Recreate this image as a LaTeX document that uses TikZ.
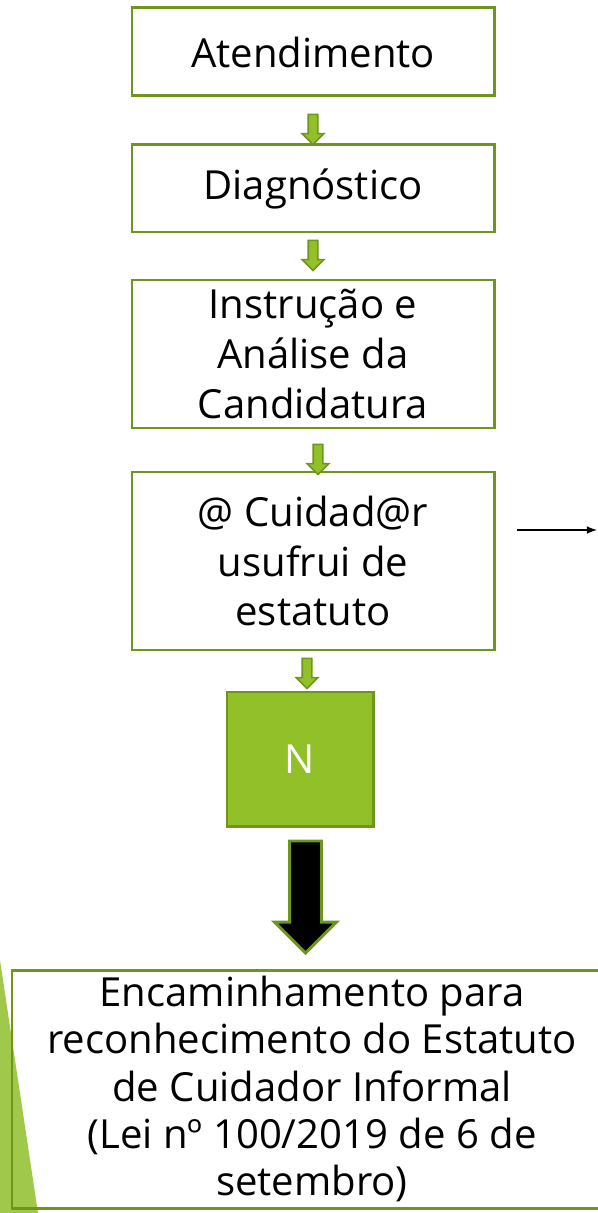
\documentclass[tikz,border=0pt]{standalone}
\usepackage{fontspec}
\setmainfont{Open Sans}
\usepackage{tikz}
\usetikzlibrary{shapes, arrows.meta, positioning}
\definecolor{leafdark}{RGB}{110,150,30}
\definecolor{leaf}{RGB}{146,192,40}
\definecolor{leaflight}{RGB}{160,200,75}
\tikzstyle{block}=[draw=leafdark,line width=1.7pt,fill=white,rectangle,minimum width=7.24cm,align=center,inner sep=0pt,outer sep=0pt]
\tikzstyle{stepto}=[single arrow,draw=leafdark,fill=leaf,line width=0.9pt,rotate=-90,minimum height=0.6cm,inner xsep=0pt,inner ysep=0.08cm,single arrow head extend=0.12cm,outer sep=0pt]
\tikzstyle{every node}=[font=\fontsize{22.8}{28.4}\selectfont]

\begin{document}
\begin{tikzpicture}[auto,node distance=1cm,>=latex]
    \useasboundingbox (0,0) rectangle (11.96,-24.26);
    \fill[leaflight] (0,-19.2) -- (0.76,-24.26) -- (0,-24.26) -- cycle;

    \node[block, minimum height=1.76cm] (atend) at (6.26,-1.04) {Atendimento};
    \node[block, minimum height=1.74cm, below=0.98cm of atend] (diag) {Diagnóstico};
    \node[block, minimum height=2.96cm, below=0.96cm of diag] (instr) {Instrução e\\Análise da\\Candidatura};
    \node[block, minimum height=3.56cm, below=0.88cm of instr] (cuid) {@ Cuidad@r\\usufrui de\\estatuto};
    \node[draw=leafdark, line width=1.7pt, fill=leaf, text=white, outer sep=0pt, minimum width=2.92cm, minimum height=2.68cm, below=0.84cm of cuid, xshift=-0.26cm] (n) {N};

    \node[stepto] (a1) at ([yshift=0.36cm]diag.north) {};
    \node[stepto] (a2) at ([yshift=0.54cm]instr.north) {};
    \node[stepto] (a3) at ([xshift=0.1cm,yshift=0.3cm]cuid.north) {};
    \node[stepto] (a4) at ([xshift=0.14cm,yshift=0.42cm]n.north) {};

    \node[single arrow, draw=leafdark, fill=black, line width=1.7pt, rotate=-90, minimum height=2.24cm, inner xsep=0pt, inner ysep=0.29cm, single arrow head extend=0.3cm] (big) at ([xshift=0.11cm,yshift=-1.26cm]n.south) {};

    \node[draw=leafdark, line width=1.7pt, rectangle, minimum width=12cm, minimum height=4.76cm] (enc) at (6.24,-21.78) {};
    \node[align=center, font=\fontsize{22.8}{26.8}\selectfont] (enctext) at (enc) {Encaminhamento para\\reconhecimento do Estatuto\\de Cuidador Informal\\(Lei nº 100/2019 de 6 de\\setembro)};

    \coordinate (out) at ([xshift=2.06cm,yshift=0.62cm]cuid.east);
    \draw[->, line width=1pt] ([xshift=0.46cm,yshift=0.62cm]cuid.east) -- (out);
\end{tikzpicture}
\end{document}
